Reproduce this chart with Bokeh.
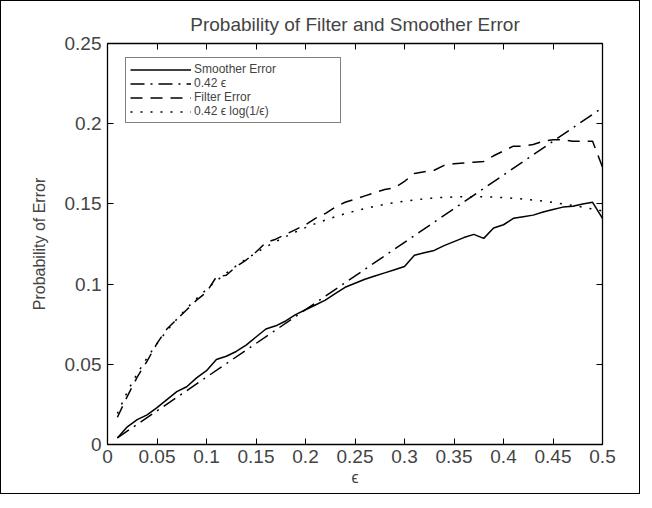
from bokeh.plotting import figure
from bokeh.models import Range1d, LinearAxis, Legend, LegendItem, FixedTicker, CustomJSTickFormatter
from bokeh.embed import file_html
from bokeh.resources import INLINE

# ---- data ----
eps = [0.01, 0.02, 0.03, 0.04, 0.05, 0.06, 0.07, 0.08, 0.09, 0.10,
       0.11, 0.12, 0.13, 0.14, 0.15, 0.16, 0.17, 0.18, 0.19, 0.20,
       0.21, 0.22, 0.23, 0.24, 0.25, 0.26, 0.27, 0.28, 0.29, 0.30,
       0.31, 0.32, 0.33, 0.34, 0.35, 0.36, 0.37, 0.38, 0.39, 0.40,
       0.41, 0.42, 0.43, 0.44, 0.45, 0.46, 0.47, 0.48, 0.49, 0.50]

smoother_error = [0.004, 0.011, 0.0155, 0.0185, 0.023, 0.028, 0.033, 0.036, 0.0415, 0.046,
                  0.053, 0.055, 0.058, 0.062, 0.067, 0.072, 0.074, 0.077, 0.081, 0.084,
                  0.087, 0.090, 0.094, 0.098, 0.1005, 0.103, 0.105, 0.107, 0.109, 0.111,
                  0.118, 0.1195, 0.121, 0.124, 0.1265, 0.129, 0.131, 0.1285, 0.135, 0.137,
                  0.141, 0.142, 0.143, 0.145, 0.1465, 0.148, 0.1485, 0.150, 0.151, 0.141]

filter_error = [0.017, 0.030, 0.042, 0.052, 0.063, 0.072, 0.078, 0.084, 0.090, 0.095,
                0.1045, 0.1055, 0.111, 0.115, 0.120, 0.126, 0.128, 0.131, 0.134, 0.137,
                0.141, 0.144, 0.148, 0.151, 0.153, 0.155, 0.157, 0.159, 0.160, 0.164,
                0.169, 0.170, 0.171, 0.174, 0.175, 0.1755, 0.176, 0.1765, 0.180, 0.183,
                0.186, 0.186, 0.187, 0.189, 0.190, 0.190, 0.189, 0.189, 0.189, 0.173]

bound_log = [0.0193, 0.0329, 0.0442, 0.0541, 0.0629, 0.0709, 0.0782, 0.0849, 0.0910, 0.0967,
             0.1020, 0.1069, 0.1114, 0.1156, 0.1195, 0.1232, 0.1265, 0.1296, 0.1325, 0.1352,
             0.1377, 0.1399, 0.1420, 0.1439, 0.1456, 0.1471, 0.1485, 0.1497, 0.1508, 0.1517,
             0.1525, 0.1531, 0.1537, 0.1541, 0.1543, 0.1545, 0.1545, 0.1544, 0.1542, 0.1539,
             0.1535, 0.1530, 0.1524, 0.1517, 0.1509, 0.1500, 0.1490, 0.1480, 0.1468, 0.1456]

lin_eps = [0.01, 0.50]
lin_bound = [0.0042, 0.21]

x_ticks = [0, 0.05, 0.1, 0.15, 0.2, 0.25, 0.3, 0.35, 0.4, 0.45, 0.5]
y_ticks = [0, 0.05, 0.1, 0.15, 0.2, 0.25]

FONT = "Liberation Sans"

p = figure(width=640, height=494, output_backend="svg", toolbar_location=None,
           x_range=Range1d(0, 0.5), y_range=Range1d(0, 0.25),
           min_border_left=106, min_border_right=39, min_border_top=42, min_border_bottom=51,
           title="Probability of Filter and Smoother Error")
p.styles = {"border": "1px solid black"}
p.grid.visible = False
p.outline_line_color = "black"
p.outline_line_width = 1.3

p.title.align = "center"
p.title.offset = 8
p.title.text_font = FONT
p.title.text_font_style = "normal"
p.title.text_font_size = "19px"
p.title.standoff = 17

for ax, ticks in ((p.xaxis[0], x_ticks), (p.yaxis[0], y_ticks)):
    ax.ticker = FixedTicker(ticks=ticks)
    ax.major_tick_in = 6
    ax.major_tick_out = 0
    ax.minor_tick_line_color = None
    ax.axis_line_color = "black"
    ax.major_label_text_font = FONT
    ax.major_label_text_font_size = "19px"
    ax.axis_label_text_font = FONT
    ax.axis_label_text_font_style = "normal"

p.xaxis[0].axis_label = "ϵ"
p.xaxis[0].axis_label_text_font_size = "16px"
p.xaxis[0].major_label_standoff = 5
p.xaxis[0].axis_label_standoff = 3
p.yaxis[0].axis_label = "Probability of Error"
p.yaxis[0].axis_label_text_font_size = "16px"
p.yaxis[0].major_label_standoff = 6
p.yaxis[0].axis_label_standoff = 14

blank = CustomJSTickFormatter(code="return ''")
top_ax = LinearAxis(ticker=FixedTicker(ticks=x_ticks), formatter=blank,
                    major_tick_in=6, major_tick_out=0, minor_tick_line_color=None)
right_ax = LinearAxis(ticker=FixedTicker(ticks=y_ticks), formatter=blank,
                      major_tick_in=6, major_tick_out=0, minor_tick_line_color=None)
p.add_layout(top_ax, "above")
p.add_layout(right_ax, "right")

lw = 1.5
r_s = p.line(eps, smoother_error, line_color="black", line_width=lw)
r_l = p.line(lin_eps, lin_bound, line_color="black", line_width=lw, line_dash="14 6 2 6")
r_f = p.line(eps, filter_error, line_color="black", line_width=lw, line_dash="12 8")
r_g = p.line(eps, bound_log, line_color="black", line_width=lw, line_dash="2 8")

legend = Legend(items=[
    LegendItem(label="Smoother Error", renderers=[r_s]),
    LegendItem(label="0.42 ϵ", renderers=[r_l]),
    LegendItem(label="Filter Error", renderers=[r_f]),
    LegendItem(label="0.42 ϵ log(1/ϵ)", renderers=[r_g]),
], location=(18, 321))
legend.label_text_font = FONT
legend.label_text_font_size = "12px"
legend.label_height = 11
legend.glyph_height = 11
legend.glyph_width = 61
legend.label_width = 142
legend.label_standoff = 3
legend.spacing = 0
legend.padding = 4
legend.margin = 0
legend.border_line_color = "black"
legend.border_line_width = 1.3
legend.background_fill_alpha = 1
p.add_layout(legend)

open("out.html", "w").write(file_html(p, INLINE))
